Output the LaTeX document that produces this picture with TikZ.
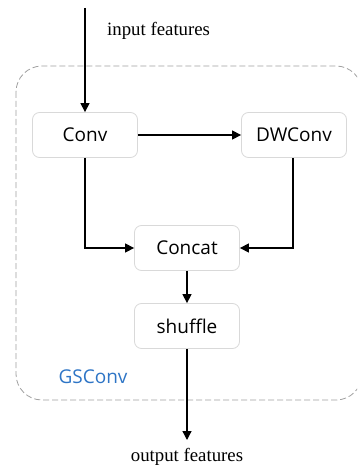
\documentclass[tikz,border=0pt]{standalone}
\usepackage{fontspec}
\setmainfont{Liberation Serif}
\newfontfamily\boxfont{Open Sans}
\usetikzlibrary{arrows.meta}
\definecolor{boxline}{HTML}{D9D9D9}
\definecolor{groupline}{HTML}{A0A0A0}
\definecolor{grouptext}{HTML}{2E75C6}
\tikzset{
  opbox/.style={draw=boxline, line width=0.8pt, fill=white, rounded corners=7pt,
    minimum width=105pt, minimum height=45pt, inner sep=0pt,
    font=\boxfont\fontsize{19}{21}\selectfont},
  flow/.style={line width=1.3pt, -{Triangle[length=9pt,width=9pt]}},
  caption/.style={inner sep=0pt, font=\fontsize{18.8}{21}\selectfont}
}
\begin{document}
\begin{tikzpicture}[x=1pt,y=-1pt]
  \useasboundingbox (0,0) rectangle (357,468);
  \clip (0,0) rectangle (357,468);
  \fill[white] (0,0) rectangle (357,468);

  % GSConv module outline
  \draw[groupline, line width=0.8pt, dash pattern=on 6pt off 3pt, rounded corners=26pt]
    (16,66) rectangle (362,400);
  \node[font=\boxfont\fontsize{19}{21}\selectfont, text=grouptext, inner sep=0pt] (gs) at (93,377) {GSConv};

  % operations
  \node[opbox] (conv)    at (85,135)  {Conv};
  \node[opbox] (dwconv)  at (294,135) {DWConv};
  \node[opbox] (concat)  at (187,248) {Concat};
  \node[opbox] (shuffle) at (187,326) {shuffle};

  % input / output
  \coordinate (in) at (85,8);
  \coordinate (out) at (187,440);
  \node[caption, anchor=west] (inlabel) at (107,31) {input features};
  \node[caption] (outlabel) at (187,457) {output features};

  % data flow
  \draw[flow] (in) -- (conv.north);
  \draw[flow] (conv.east) -- (dwconv.west);
  \draw[flow] (conv.south) |- (concat.west);
  \draw[flow] ([xshift=-1pt]dwconv.south) |- (concat.east);
  \draw[flow] (concat.south) -- (shuffle.north);
  \draw[flow] (shuffle.south) -- (out);
\end{tikzpicture}
\end{document}
